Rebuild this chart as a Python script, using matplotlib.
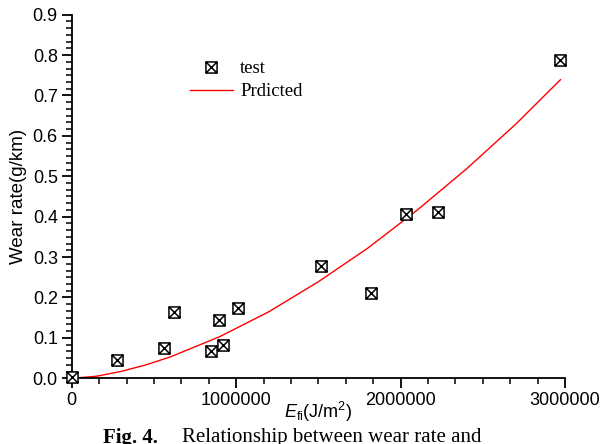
import matplotlib
matplotlib.use('Agg')
from matplotlib import pyplot as plt
from matplotlib.path import Path
from matplotlib.ticker import MultipleLocator

# measured points
test_x = [0, 275000, 563000, 620000, 847000, 896000, 920000, 1013000,
          1516000, 1821000, 2033000, 2226000, 2972000]
test_y = [0.004, 0.045, 0.074, 0.164, 0.068, 0.145, 0.082, 0.173,
          0.278, 0.210, 0.407, 0.411, 0.787]

# predicted curve
pred_x = [0, 150000, 300000, 450000, 600000, 900000, 1200000, 1500000,
          1800000, 2100000, 2400000, 2700000, 2972000]
pred_y = [0.0, 0.005, 0.017, 0.033, 0.053, 0.103, 0.165, 0.239,
          0.322, 0.416, 0.518, 0.629, 0.739]

# square with a cross in it
verts = [(-1, -1), (1, -1), (1, 1), (-1, 1), (-1, -1),
         (-1, -1), (1, 1), (-1, 1), (1, -1)]
codes = [Path.MOVETO, Path.LINETO, Path.LINETO, Path.LINETO, Path.CLOSEPOLY,
         Path.MOVETO, Path.LINETO, Path.MOVETO, Path.LINETO]
boxx = Path(verts, codes)

sans = ['Liberation Sans', 'DejaVu Sans']
serif = ['Liberation Serif', 'DejaVu Serif']
plt.rcParams['mathtext.fontset'] = 'custom'
plt.rcParams['mathtext.rm'] = 'Liberation Sans'
plt.rcParams['mathtext.it'] = 'Liberation Sans:italic'

fig = plt.figure(figsize=(6.06, 4.44), dpi=100)
ax = fig.add_axes([0.1183, 0.148, 0.8142, 0.819])

ax.plot(pred_x, pred_y, color='red', lw=1, label='Prdicted', zorder=2)
ax.plot(test_x, test_y, ls='none', marker=boxx, ms=8, mfc='white',
        mec='black', mew=1.1, label='test', clip_on=False, zorder=3)

ax.set_xlim(0, 3000000)
ax.set_ylim(0, 0.9)
ax.xaxis.set_major_locator(MultipleLocator(1000000))
ax.xaxis.set_minor_locator(MultipleLocator(1000000 / 6))
ax.yaxis.set_major_locator(MultipleLocator(0.1))
ax.yaxis.set_minor_locator(MultipleLocator(0.1 / 6))
ax.set_xticks([0, 1000000, 2000000, 3000000])
ax.set_xticklabels(['0', '1000000', '2000000', '3000000'])
ax.set_yticklabels(['%.1f' % v for v in ax.get_yticks()])

for s in ['top', 'right']:
    ax.spines[s].set_visible(False)
for s in ['left', 'bottom']:
    ax.spines[s].set_linewidth(1.3)
ax.tick_params(which='major', direction='out', length=7, width=1.3,
               labelsize=13, pad=3)
ax.tick_params(which='minor', direction='out', length=4, width=1.1)
for lab in ax.get_xticklabels() + ax.get_yticklabels():
    lab.set_family(sans)

ax.set_ylabel('Wear rate(g/km)', fontsize=13.5, family=sans)
ax.yaxis.label.set_va('center')
ax.yaxis.set_label_coords(-0.108, 0.5)
ax.set_xlabel(r'$E_{\rm fi}$(J/m$^2$)', fontsize=13, family=sans)
ax.xaxis.label.set_va('center')
ax.xaxis.set_label_coords(0.5, -0.093)

handles, labels = ax.get_legend_handles_labels()
leg = ax.legend(handles[::-1], labels[::-1], loc='upper left',
                bbox_to_anchor=(0.205, 0.921), frameon=False,
                prop={'family': serif, 'size': 13.5}, handlelength=2.3,
                handletextpad=0.4, labelspacing=0.3)

fig.text(0.17, 1 - 428 / 444, 'Fig. 4.', fontsize=15, fontweight='bold',
         family=serif, va='top', ha='left')
fig.text(0.30, 1 - 428 / 444, 'Relationship between wear rate and',
         fontsize=15, family=serif, va='top', ha='left')

fig.savefig('out.png', dpi=100)
